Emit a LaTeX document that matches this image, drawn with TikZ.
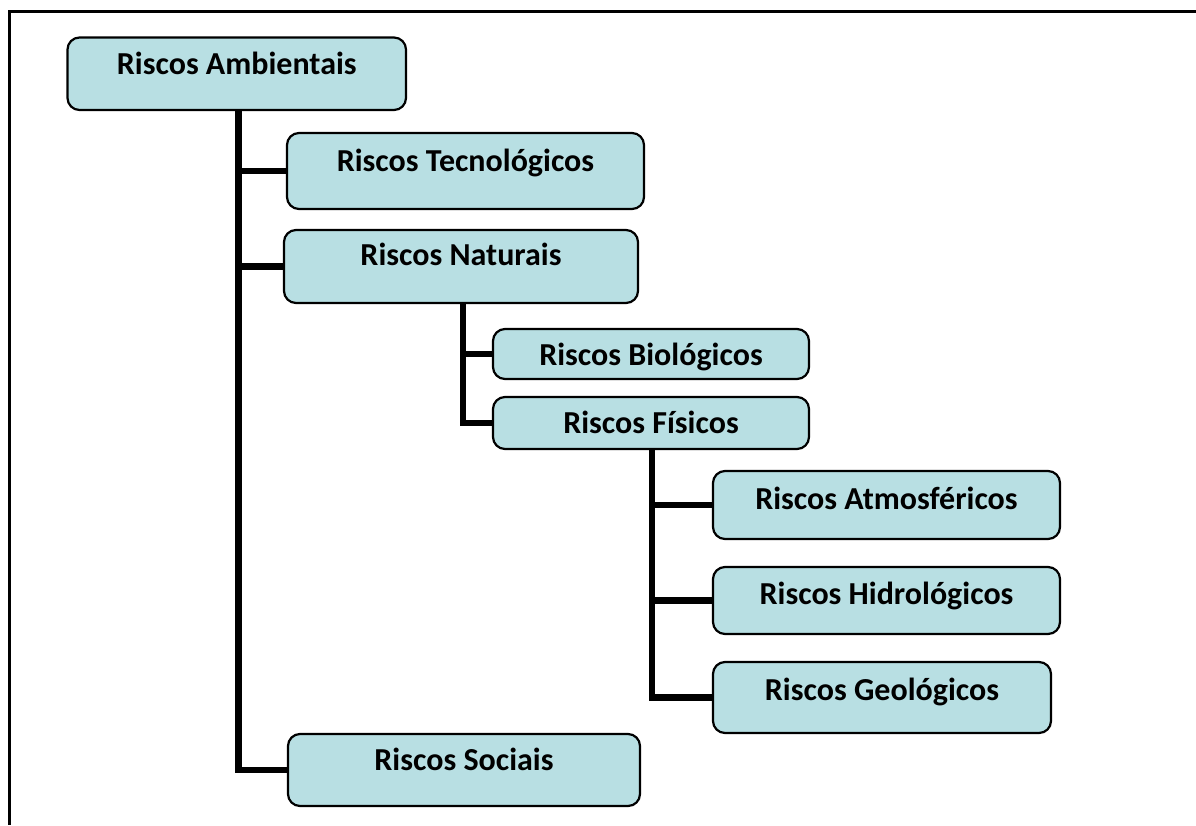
\documentclass[tikz,border=0pt]{standalone}
\usepackage{fontspec}
\setmainfont{Carlito}
\definecolor{boxfill}{RGB}{184,223,227}
\begin{document}
\begin{tikzpicture}[x=1pt,y=-1pt,
  box/.style={draw=black, fill=boxfill, line width=2.2pt, rounded corners=12pt, inner sep=0pt},
  lbl/.style={anchor=base, inner sep=0pt, font=\fontsize{32}{38}\selectfont\bfseries},
  conn/.style={draw=black, line width=6.5pt},
  frameline/.style={draw=black, line width=3pt}]
\useasboundingbox (0,0) rectangle (1196,825);
\coordinate (ftop) at (1196,11);
\coordinate (fcorner) at (9,11);
\coordinate (fbot) at (9,825);
\draw[frameline] (ftop) -- (fcorner) -- (fbot);

\node[box, minimum width=338.5pt, minimum height=72.5pt] (amb) at (236.75,73.75) {};
\node[box, minimum width=357pt, minimum height=76pt] (tec) at (465.5,171) {};
\node[box, minimum width=354pt, minimum height=73pt] (nat) at (461,266.5) {};
\node[box, minimum width=316pt, minimum height=50pt] (bio) at (651,354) {};
\node[box, minimum width=316pt, minimum height=52pt] (fis) at (651,423) {};
\node[box, minimum width=347pt, minimum height=68pt] (atm) at (886.5,505) {};
\node[box, minimum width=347pt, minimum height=67pt] (hid) at (886.5,600.5) {};
\node[box, minimum width=338pt, minimum height=71pt] (geo) at (882,697.5) {};
\node[box, minimum width=352pt, minimum height=72pt] (soc) at (464,770) {};

\node[lbl] (ambt) at ([yshift=-38pt]amb.north) {Riscos Ambientais};
\node[lbl] (tect) at ([yshift=-40pt]tec.north) {Riscos Tecnológicos};
\node[lbl] (natt) at ([yshift=-37pt]nat.north) {Riscos Naturais};
\node[lbl] (biot) at ([yshift=-38pt]bio.north) {Riscos Biológicos};
\node[lbl] (fist) at ([yshift=-38pt]fis.north) {Riscos Físicos};
\node[lbl] (atmt) at ([yshift=-40pt]atm.north) {Riscos Atmosféricos};
\node[lbl] (hidt) at ([yshift=-39pt]hid.north) {Riscos Hidrológicos};
\node[lbl] (geot) at ([yshift=-40pt]geo.north) {Riscos Geológicos};
\node[lbl] (soct) at ([yshift=-38pt]soc.north) {Riscos Sociais};

\draw[conn] ([xshift=1.5pt]amb.south) |- (tec.west);
\draw[conn] ([xshift=1.5pt]amb.south) |- (nat.west);
\draw[conn] ([xshift=1.5pt]amb.south) |- (soc.west);
\draw[conn] ([xshift=2pt]nat.south) |- (bio.west);
\draw[conn] ([xshift=2pt]nat.south) |- (fis.west);
\draw[conn] ([xshift=1pt]fis.south) |- (atm.west);
\draw[conn] ([xshift=1pt]fis.south) |- (hid.west);
\draw[conn] ([xshift=1pt]fis.south) |- (geo.west);
\end{tikzpicture}
\end{document}
